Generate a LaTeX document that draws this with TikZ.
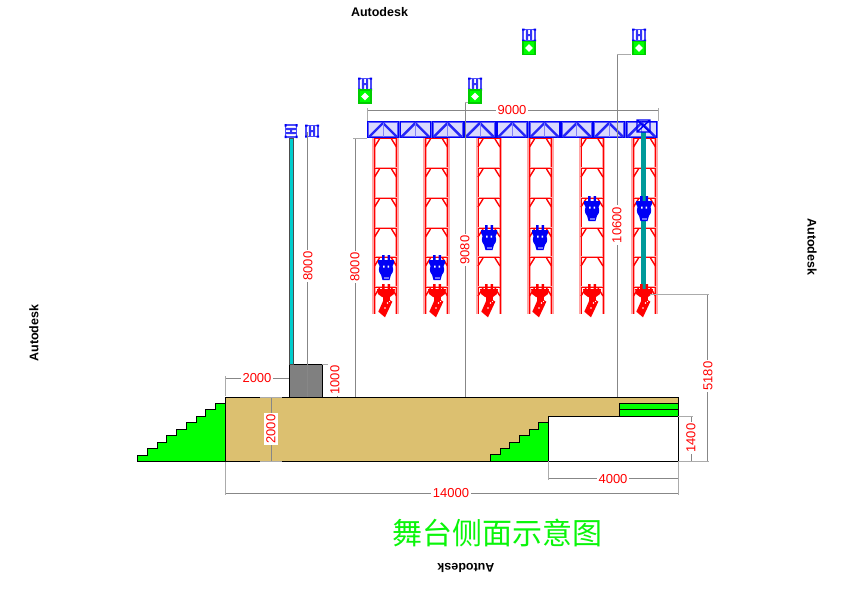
\documentclass[tikz,border=0pt]{standalone}
\usepackage{fontspec}
\setmainfont{Liberation Sans}
\newfontfamily\cjk{Noto Sans CJK SC}
\usetikzlibrary{positioning}
\definecolor{stagecolor}{RGB}{220,192,112}
\definecolor{stepcolor}{RGB}{0,255,0}
\definecolor{trussblue}{RGB}{0,0,245}
\definecolor{dimgray}{RGB}{135,135,135}
\definecolor{polecolor}{RGB}{0,205,205}
\definecolor{titlegreen}{RGB}{10,245,10}

\begin{document}
\begin{tikzpicture}[
    x=1pt, y=-1pt,
    dimline/.style={draw=dimgray, line width=0.85pt},
    dimext/.style={draw=dimgray!70, line width=0.85pt},
    dimlabel/.style={fill=white, text=red, font=\fontsize{13}{14}\selectfont, inner sep=2pt},
    brand/.style={font=\fontsize{12.5}{13}\bfseries\selectfont, inner sep=0pt},
    solidbox/.style={draw=black, line width=0.9pt},
    railpink/.style={draw=red!35, line width=3.4pt},
    railred/.style={draw=red, line width=1pt},
    tower/.pic={
        % rails, pink edge first
        \draw[railpink] (-11.5,0) -- (-11.5,176) (11.5,0) -- (11.5,176);
        \draw[railred] (-11,0) -- (-11,176) (11,0) -- (11,176);
        \foreach \ty in {0,30,60,90,119,149} {
            \draw[draw=red!35, line width=2.6pt] (-11,\ty) -- (11,\ty);
            \draw[railred] (-11,\ty) -- (11,\ty);
            \draw[railred, line width=1.4pt] (-11,\ty+9) -- (-6,\ty+1) (11,\ty+9) -- (6,\ty+1);
        }
    },
    bluehead/.pic={
        \fill[trussblue] (-4,-13) rectangle (-1.5,-5) (1.5,-13) rectangle (4,-5);
        \fill[trussblue] (-8,-8) -- (8,-8) -- (8,-5) -- (6,-1) -- (-6,-1) -- (-8,-5) -- cycle;
        \fill[trussblue] (0,1.5) circle (7.2);
        \fill[trussblue] (-6,3) -- (6,3) -- (3.5,12) -- (-3.5,12) -- cycle;
        \fill[white] (-3,-2.5) rectangle (-1.5,-0.5) (1.5,-2.5) rectangle (3,-0.5);
        \fill[trussblue!55] (-2.5,8.5) rectangle (2.5,11);
    },
    redhead/.pic={
        \fill[red] (-4,-4) rectangle (-1.5,4) (1.5,-4) rectangle (4,4);
        \fill[red] (-9,1) -- (9,1) -- (8,6) -- (4,9) -- (-4,9) -- (-8,6) -- cycle;
        \fill[red] (-3.5,7) rectangle (3.5,13);
        \fill[red] (-7.7,23.7) -- (-1,29.3) -- (6.3,13.7) -- (-1,8.7) -- cycle;
        \fill[white] (1.5,15) circle (0.9) (-1,20) circle (0.9) (3.5,13.5) circle (0.7);
    },
    spotbox/.pic={
        \draw[trussblue!70, fill=white, line width=1.8pt] (-6,-5.5) rectangle (6,5.5);
        \fill[trussblue!80] (-3.2,-5) rectangle (-1,5) (1,-5) rectangle (3.2,5) (-3.2,-1) rectangle (3.2,1);
        \fill[trussblue] (-7,-6.5) rectangle (-4.5,-4.5) (4.5,-6.5) rectangle (7,-4.5) (-7,4.5) rectangle (-4.5,6.5) (4.5,4.5) rectangle (7,6.5);
    },
    washbox/.pic={
        \draw[green!80!black, fill=stepcolor, line width=1.3pt] (-6,-6.5) rectangle (6,6.5);
        \fill[white] (0,-3.8) -- (3.8,0) -- (0,3.8) -- (-3.8,0) -- cycle;
    },
    trussbay/.pic={
        \fill[trussblue!15] (1,1) rectangle (31.3,16);
        \draw[trussblue!65, line width=2.2pt] (1,1) rectangle (31.3,16);
        \draw[trussblue, line width=1.1pt] (0.8,0.8) rectangle (31.5,16.2);
        \draw[trussblue!85, line width=2.4pt] (2,16) -- (16,2) -- (30,16);
        \draw[trussblue!50, line width=0.8pt] (16,2) -- (16,16);
    }
]
    \useasboundingbox (0,0) rectangle (847,589);

    % Stage block
    \fill[stagecolor] (225,397) rectangle (678,461);
    \fill[white] (548,416) rectangle (678,461);
    \draw[solidbox] (225,461) -- (225,397) -- (678,397) -- (678,461) -- cycle;
    \draw[solidbox] (548,461) -- (548,416) -- (678,416);

    % Left stairs
    \draw[solidbox, fill=stepcolor] (137,461) -- (137,455) -- (147,455) -- (147,448) -- (157,448) -- (157,442) -- (166,442) -- (166,435) -- (176,435) -- (176,429) -- (186,429) -- (186,422) -- (196,422) -- (196,416) -- (205,416) -- (205,409) -- (215,409) -- (215,403) -- (225,403) -- (225,461) -- cycle;

    % Inner stairs
    \draw[solidbox, fill=stepcolor] (490,461) -- (490,454) -- (500,454) -- (500,448) -- (509,448) -- (509,442) -- (519,442) -- (519,435) -- (529,435) -- (529,429) -- (538,429) -- (538,422) -- (548,422) -- (548,461) -- cycle;

    % Green bars under the stage
    \draw[solidbox, fill=stepcolor] (619,403) rectangle (678,409.5);
    \draw[solidbox, fill=stepcolor] (619,409.5) rectangle (678,416);

    % Side pole on its base
    \draw[solidbox, fill=gray] (289,364) rectangle (322,397);
    \draw[black!70, fill=polecolor, line width=0.7pt] (289.5,138) rectangle (293.5,364);

    % Towers
    \pic at (385.5,138) {tower};
    \pic at (436.5,138) {tower};
    \pic at (489,138) {tower};
    \pic at (540.5,138) {tower};
    \pic at (592,138) {tower};
    \pic at (644.5,138) {tower};

    % Truss
    \pic at (367,121) {trussbay};
    \pic at (399.3,121) {trussbay};
    \pic at (431.6,121) {trussbay};
    \pic at (463.9,121) {trussbay};
    \pic at (496.2,121) {trussbay};
    \pic at (528.5,121) {trussbay};
    \pic at (560.8,121) {trussbay};
    \pic at (593.1,121) {trussbay};
    \pic at (625.4,121) {trussbay};

    % Pole on the last tower
    \fill[polecolor!75!black] (641,132) rectangle (646,290);
    \draw[trussblue, line width=1.4pt] (637,120) rectangle (650,132) (637,120) -- (650,132) (650,120) -- (637,132);

    % Lamps
    \pic at (386,268) {bluehead};
    \pic at (437,268) {bluehead};
    \pic at (489,238) {bluehead};
    \pic at (540,238) {bluehead};
    \pic at (592,209) {bluehead};
    \pic at (644,209) {bluehead};
    \pic at (386,288) {redhead};
    \pic at (437,288) {redhead};
    \pic at (489,288) {redhead};
    \pic at (540,288) {redhead};
    \pic at (592,288) {redhead};
    \pic at (644,288) {redhead};

    % Top lamps
    \pic at (365,84) {spotbox};
    \pic at (365,96.5) {washbox};
    \pic at (475,84) {spotbox};
    \pic at (475,96.5) {washbox};
    \pic at (529,35) {spotbox};
    \pic at (529,48) {washbox};
    \pic at (639,35) {spotbox};
    \pic at (639,48) {washbox};
    \pic[rotate=90] at (291,131) {spotbox};
    \pic at (312,131) {spotbox};

    % Dimension lines
    \draw[dimline] (367,110) -- (658,110);
    \draw[dimext] (367,108) -- (367,121) (658,108) -- (658,121);
    \draw[dimline] (307,132) -- (307,397);
    \draw[dimline] (355,138) -- (355,397);
    \draw[dimext] (353,138) -- (367,138);
    \draw[dimline] (465,102) -- (465,397);
    \draw[dimext] (465,102) -- (468,102);
    \draw[dimline] (617,54) -- (617,397);
    \draw[dimext] (617,54) -- (631,54);
    \draw[dimline] (707,294) -- (707,461);
    \draw[dimext] (650,294) -- (709,294);
    \draw[dimline] (691,416) -- (691,461);
    \draw[dimext] (678,416) -- (693,416);
    \draw[dimext] (678,461) -- (709,461);
    \draw[dimline] (548,478) -- (678,478);
    \draw[dimext] (548,461) -- (548,480) (678,461) -- (678,495);
    \draw[dimline] (225,493) -- (678,493);
    \draw[dimext] (225,462) -- (225,495);
    \draw[dimline] (225,378) -- (289,378);
    \draw[dimext] (225,376) -- (225,396);
    \draw[dimline] (271,397) -- (271,461);
    \draw[dimext] (260,397) -- (282,397) (260,461) -- (282,461);
    \draw[dimext] (322,364) -- (337,364);
    \draw[dimline] (337,364) -- (337,397);

    % Dimension labels
    \node[dimlabel] (dimtruss) at (512,110) {9000};
    \node[dimlabel, rotate=90] (dimpole) at (308,266) {8000};
    \node[dimlabel, rotate=90] (dimtower) at (355,267) {8000};
    \node[dimlabel, rotate=90] (dimmid) at (465,250) {9080};
    \node[dimlabel, rotate=90] (dimhigh) at (617,225) {10600};
    \node[dimlabel, rotate=90] (dimhang) at (708,376) {5180};
    \node[dimlabel, rotate=90] (dimunder) at (691,438) {1400};
    \node[dimlabel] (dimroom) at (613,479) {4000};
    \node[dimlabel] (dimstage) at (451,493) {14000};
    \node[dimlabel] (dimedge) at (257,378) {2000};
    \node[dimlabel, rotate=90] (dimheight) at (271,429) {2000};
    \node[dimlabel, rotate=90] (dimbase) at (335,380) {1000};

    % Title
    \node[text=titlegreen, font=\cjk\fontsize{30}{31}\selectfont, inner sep=0pt] (title) at (497,533) {舞台侧面示意图};

    % Plot stamps
    \node[brand] (stamptop) at (379.5,12) {Autodesk};
    \node[brand, rotate=180] (stampbottom) at (466,568) {Autodesk};
    \node[brand, rotate=90] (stampleft) at (34,333) {Autodesk};
    \node[brand, rotate=-90] (stampright) at (812,247) {Autodesk};
\end{tikzpicture}
\end{document}
